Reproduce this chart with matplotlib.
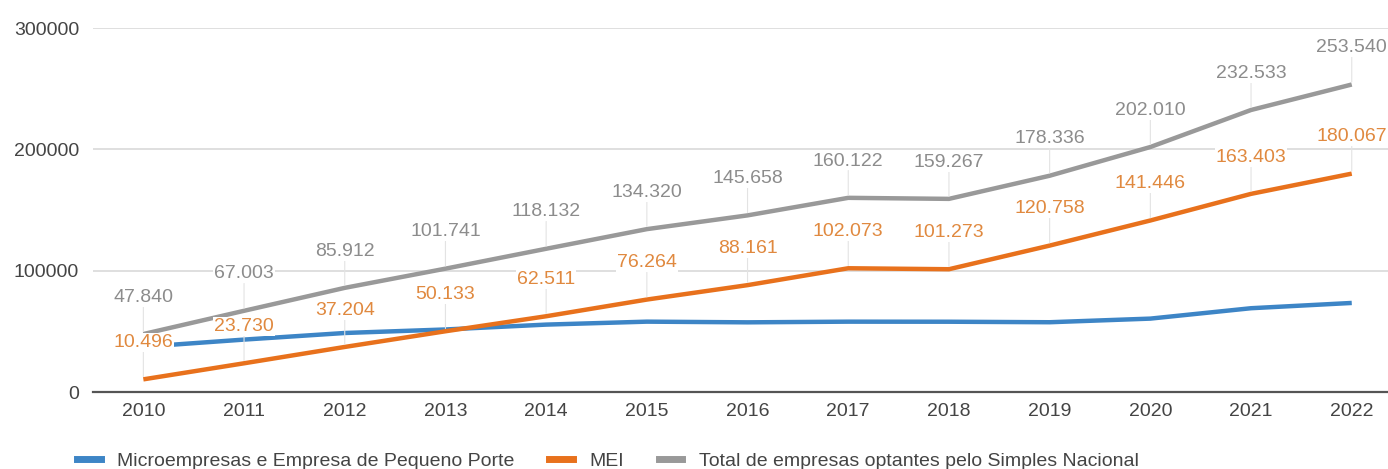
import matplotlib
matplotlib.use("Agg")
import matplotlib.pyplot as plt

plt.rcParams['font.family'] = ['Liberation Sans', 'DejaVu Sans']

anos = ['2010', '2011', '2012', '2013', '2014', '2015', '2016',
        '2017', '2018', '2019', '2020', '2021', '2022']
micro_epp = [37344, 43273, 48708, 51608, 55621, 58056, 57497,
             58049, 57994, 57578, 60564, 69130, 73473]
mei = [10496, 23730, 37204, 50133, 62511, 76264, 88161,
       102073, 101273, 120758, 141446, 163403, 180067]
total = [47840, 67003, 85912, 101741, 118132, 134320, 145658,
         160122, 159267, 178336, 202010, 232533, 253540]

nomes = ['Microempresas e Empresa de Pequeno Porte', 'MEI',
         'Total de empresas optantes pelo Simples Nacional']
cores = ['#3d85c6', '#e8711c', '#999999']
cores_rotulo = [None, '#e0893f', '#8c8c8c']


def fmt(v):
    return f"{v:,}".replace(",", ".")


fig = plt.figure(figsize=(13.88, 4.69), dpi=100)
ax = fig.add_axes([0.067, 0.164, 0.933, 0.776])

x = list(range(len(anos)))
series = [micro_epp, mei, total]
for serie, cor in zip(series, cores):
    ax.plot(x, serie, color=cor, lw=3.2, solid_capstyle='butt', zorder=3)

# rotulos com fundo branco e linha guia fina
for serie, cor in zip(series[1:], cores_rotulo[1:]):
    for xi, v in zip(x, serie):
        ax.annotate(fmt(v), xy=(xi, v), xytext=(0, 26.5),
                    textcoords='offset points', ha='center', va='center',
                    fontsize=14, color=cor, zorder=5,
                    bbox=dict(boxstyle='square,pad=0.05', fc='white',
                              ec='none'),
                    arrowprops=dict(arrowstyle='-', color='#e3e3e3',
                                    lw=0.8, shrinkA=0, shrinkB=2))

ax.set_xlim(-0.5, 12.36)
ax.set_ylim(0, 300000)
ax.set_yticks([0, 100000, 200000, 300000])
ax.set_xticks(x)
ax.set_xticklabels(anos)
ax.grid(axis='y', color='#d9d9d9', lw=1.2)
ax.set_axisbelow(True)
for s in ['top', 'right', 'left']:
    ax.spines[s].set_visible(False)
ax.spines['bottom'].set_color('#555555')
ax.spines['bottom'].set_linewidth(1.6)
ax.tick_params(length=0, labelsize=14, colors='#444444')
ax.tick_params(axis='x', pad=8)
ax.tick_params(axis='y', pad=10)

handles = [plt.Line2D([], [], color=c, lw=5) for c in cores]
fig.legend(handles, nomes, loc='center left',
           bbox_to_anchor=(0.043, 1 - 461 / 469), ncol=3, frameon=False,
           fontsize=14, handlelength=1.2, handletextpad=0.85,
           columnspacing=1.8, labelcolor='#444444')

fig.savefig('out.png', dpi=100)
